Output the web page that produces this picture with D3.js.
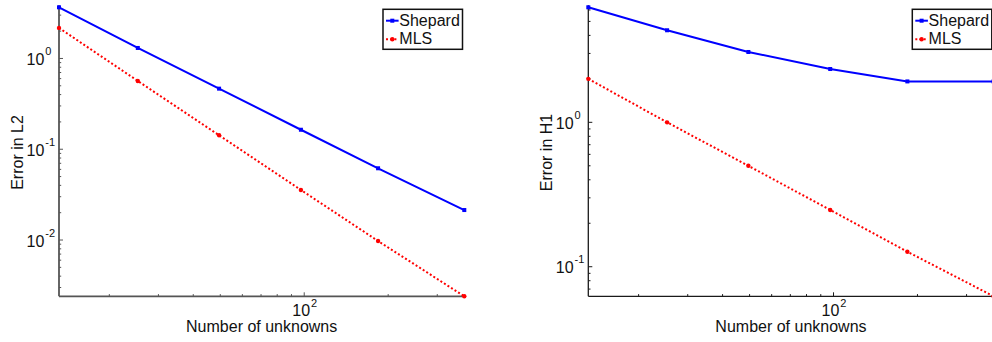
<!DOCTYPE html>
<html>
<head>
<meta charset="utf-8">
<script src="https://cdn.jsdelivr.net/npm/d3@7"></script>
<style>
  html, body { margin: 0; padding: 0; background: #fff; }
  svg { display: block; font-family: "Liberation Sans", Arial, sans-serif; }
</style>
</head>
<body>
<svg id="chart" width="992" height="342"></svg>
<script>
// ---- data ----
const unknowns = [13.2, 25.3, 49.5, 97.3, 184, 375];
const shepardL2 = [3.66, 1.305, 0.465, 0.164, 0.0617, 0.0214];
const mlsL2     = [2.17, 0.565, 0.1425, 0.0356, 0.00975, 0.0024];
const shepardH1 = [6.26, 4.34, 3.07, 2.34, 1.92, 1.92];
const mlsH1     = [2.00, 1.00, 0.50, 0.247, 0.127, 0.0624];
const seriesNames = ["Shepard", "MLS"];
const xLabel = "Number of unknowns";
const yLabels = ["Error in L2", "Error in H1"];

const svg = d3.select("#chart");

const panels = [
  { x0: 59, x1: 464.3, yLabel: yLabels[0], ylabX: 22.5, series: [shepardL2, mlsL2], axisColor: "#555", axisW: 1.8 },
  { x0: 588.3, x1: 993.6, yLabel: yLabels[1], ylabX: 552.3, series: [shepardH1, mlsH1], axisColor: "#1a1a1a", axisW: 1.3 }
];
const yTop = 7.3, yBot = 296.3;
const styles = [
  { color: "#0000ff", dash: null, marker: "square" },
  { color: "#ff0000", dash: "2,2.2", marker: "circle" }
];

function addPow(sel, exp, supDy, supSize) {
  sel.append("tspan").text("10");
  sel.append("tspan").attr("dx", 1).attr("dy", supDy).attr("font-size", supSize)
     .text(exp < 0 ? "-" + (-exp) : String(exp));
}

panels.forEach(p => {
  const allY = p.series.flat();
  const x = d3.scaleLog().domain(d3.extent(unknowns)).range([p.x0, p.x1]);
  const y = d3.scaleLog().domain(d3.extent(allY)).range([yBot, yTop]);
  const g = svg.append("g");

  // ticks
  const [xa, xb] = x.domain();
  const [ya, yb] = y.domain();
  const xticks = [], yticks = [];
  for (let e = Math.floor(Math.log10(xa)); e <= Math.ceil(Math.log10(xb)); e++)
    for (let k = 1; k <= 9; k++) { const v = k * Math.pow(10, e); if (v >= xa * 0.999 && v <= xb * 1.001) xticks.push({ v, major: k === 1, e }); }
  for (let e = Math.floor(Math.log10(ya)); e <= Math.ceil(Math.log10(yb)); e++)
    for (let k = 1; k <= 9; k++) { const v = k * Math.pow(10, e); if (v >= ya * 0.999 && v <= yb * 1.001) yticks.push({ v, major: k === 1, e }); }

  g.selectAll(".xt").data(xticks).join("line")
    .attr("x1", d => x(d.v)).attr("x2", d => x(d.v))
    .attr("y1", yBot).attr("y2", d => yBot - (d.major ? 4 : 2.2))
    .attr("stroke", p.axisColor).attr("stroke-width", 1);
  g.selectAll(".yt").data(yticks).join("line")
    .attr("y1", d => y(d.v)).attr("y2", d => y(d.v))
    .attr("x1", p.x0).attr("x2", d => p.x0 + (d.major ? 4 : 2.2))
    .attr("stroke", p.axisColor).attr("stroke-width", 1);

  // axis lines
  g.append("line").attr("x1", p.x0).attr("x2", p.x1).attr("y1", yBot).attr("y2", yBot)
    .attr("stroke", p.axisColor).attr("stroke-width", p.axisW);
  g.append("line").attr("x1", p.x0).attr("x2", p.x0).attr("y1", yBot).attr("y2", yTop - 2)
    .attr("stroke", p.axisColor).attr("stroke-width", p.axisW);

  // tick labels
  xticks.filter(d => d.major).forEach(d => {
    const t = g.append("text").attr("x", x(d.v) + 0.5).attr("y", yBot + 19.7)
      .attr("text-anchor", "middle").attr("font-size", 16).attr("fill", "#111");
    addPow(t, d.e, -9, 11);
  });
  yticks.filter(d => d.major).forEach(d => {
    const t = g.append("text").attr("x", p.x0 - 32.5).attr("y", y(d.v) + 6.5)
      .attr("text-anchor", "start").attr("font-size", 16).attr("fill", "#111");
    addPow(t, d.e, -10, 11);
  });

  // axis labels
  g.append("text").attr("x", x(Math.pow(10, (Math.log10(xa) + Math.log10(xb)) / 2)))
    .attr("y", 331.5).attr("text-anchor", "middle").attr("font-size", 16).attr("fill", "#111")
    .text(xLabel);
  g.append("text").attr("transform", `translate(${p.ylabX},152.5) rotate(-90)`)
    .attr("text-anchor", "middle").attr("font-size", 16).attr("fill", "#111")
    .text(p.yLabel);

  // series
  const line = d3.line().x((d, i) => x(unknowns[i])).y(d => y(d));
  p.series.forEach((s, si) => {
    const st = styles[si];
    g.append("path").datum(s).attr("d", line).attr("fill", "none")
      .attr("stroke", st.color).attr("stroke-width", 2)
      .attr("stroke-dasharray", st.dash);
    if (st.marker === "square") {
      g.selectAll(null).data(s).join("rect")
        .attr("x", (d, i) => x(unknowns[i]) - 2).attr("y", d => y(d) - 2)
        .attr("width", 4).attr("height", 4).attr("fill", st.color);
    } else {
      g.selectAll(null).data(s).join("circle")
        .attr("cx", (d, i) => x(unknowns[i])).attr("cy", d => y(d))
        .attr("r", 2.2).attr("fill", st.color);
    }
  });

  // legend
  const lx = p.x1 - 81.3, ly = 9.3;
  const lg = g.append("g");
  lg.append("rect").attr("x", lx).attr("y", ly).attr("width", 79.5).attr("height", 40)
    .attr("fill", "#fff").attr("stroke", "#111").attr("stroke-width", 1.5);
  seriesNames.forEach((name, i) => {
    const st = styles[i];
    const cy = ly + 11.4 + i * 18.6;
    lg.append("line").attr("x1", lx + 3).attr("x2", lx + 15.6).attr("y1", cy).attr("y2", cy)
      .attr("stroke", st.color).attr("stroke-width", 2).attr("stroke-dasharray", st.dash);
    if (st.marker === "square")
      lg.append("rect").attr("x", lx + 9.3 - 2).attr("y", cy - 2).attr("width", 4).attr("height", 4).attr("fill", st.color);
    else
      lg.append("circle").attr("cx", lx + 9.3).attr("cy", cy).attr("r", 2.2).attr("fill", st.color);
    lg.append("text").attr("x", lx + 16.3).attr("y", cy + 5.3 - (i === 0 ? 0.4 : 0.7))
      .attr("font-size", 16).attr("fill", "#111").text(name);
  });
});
</script>
</body>
</html>
